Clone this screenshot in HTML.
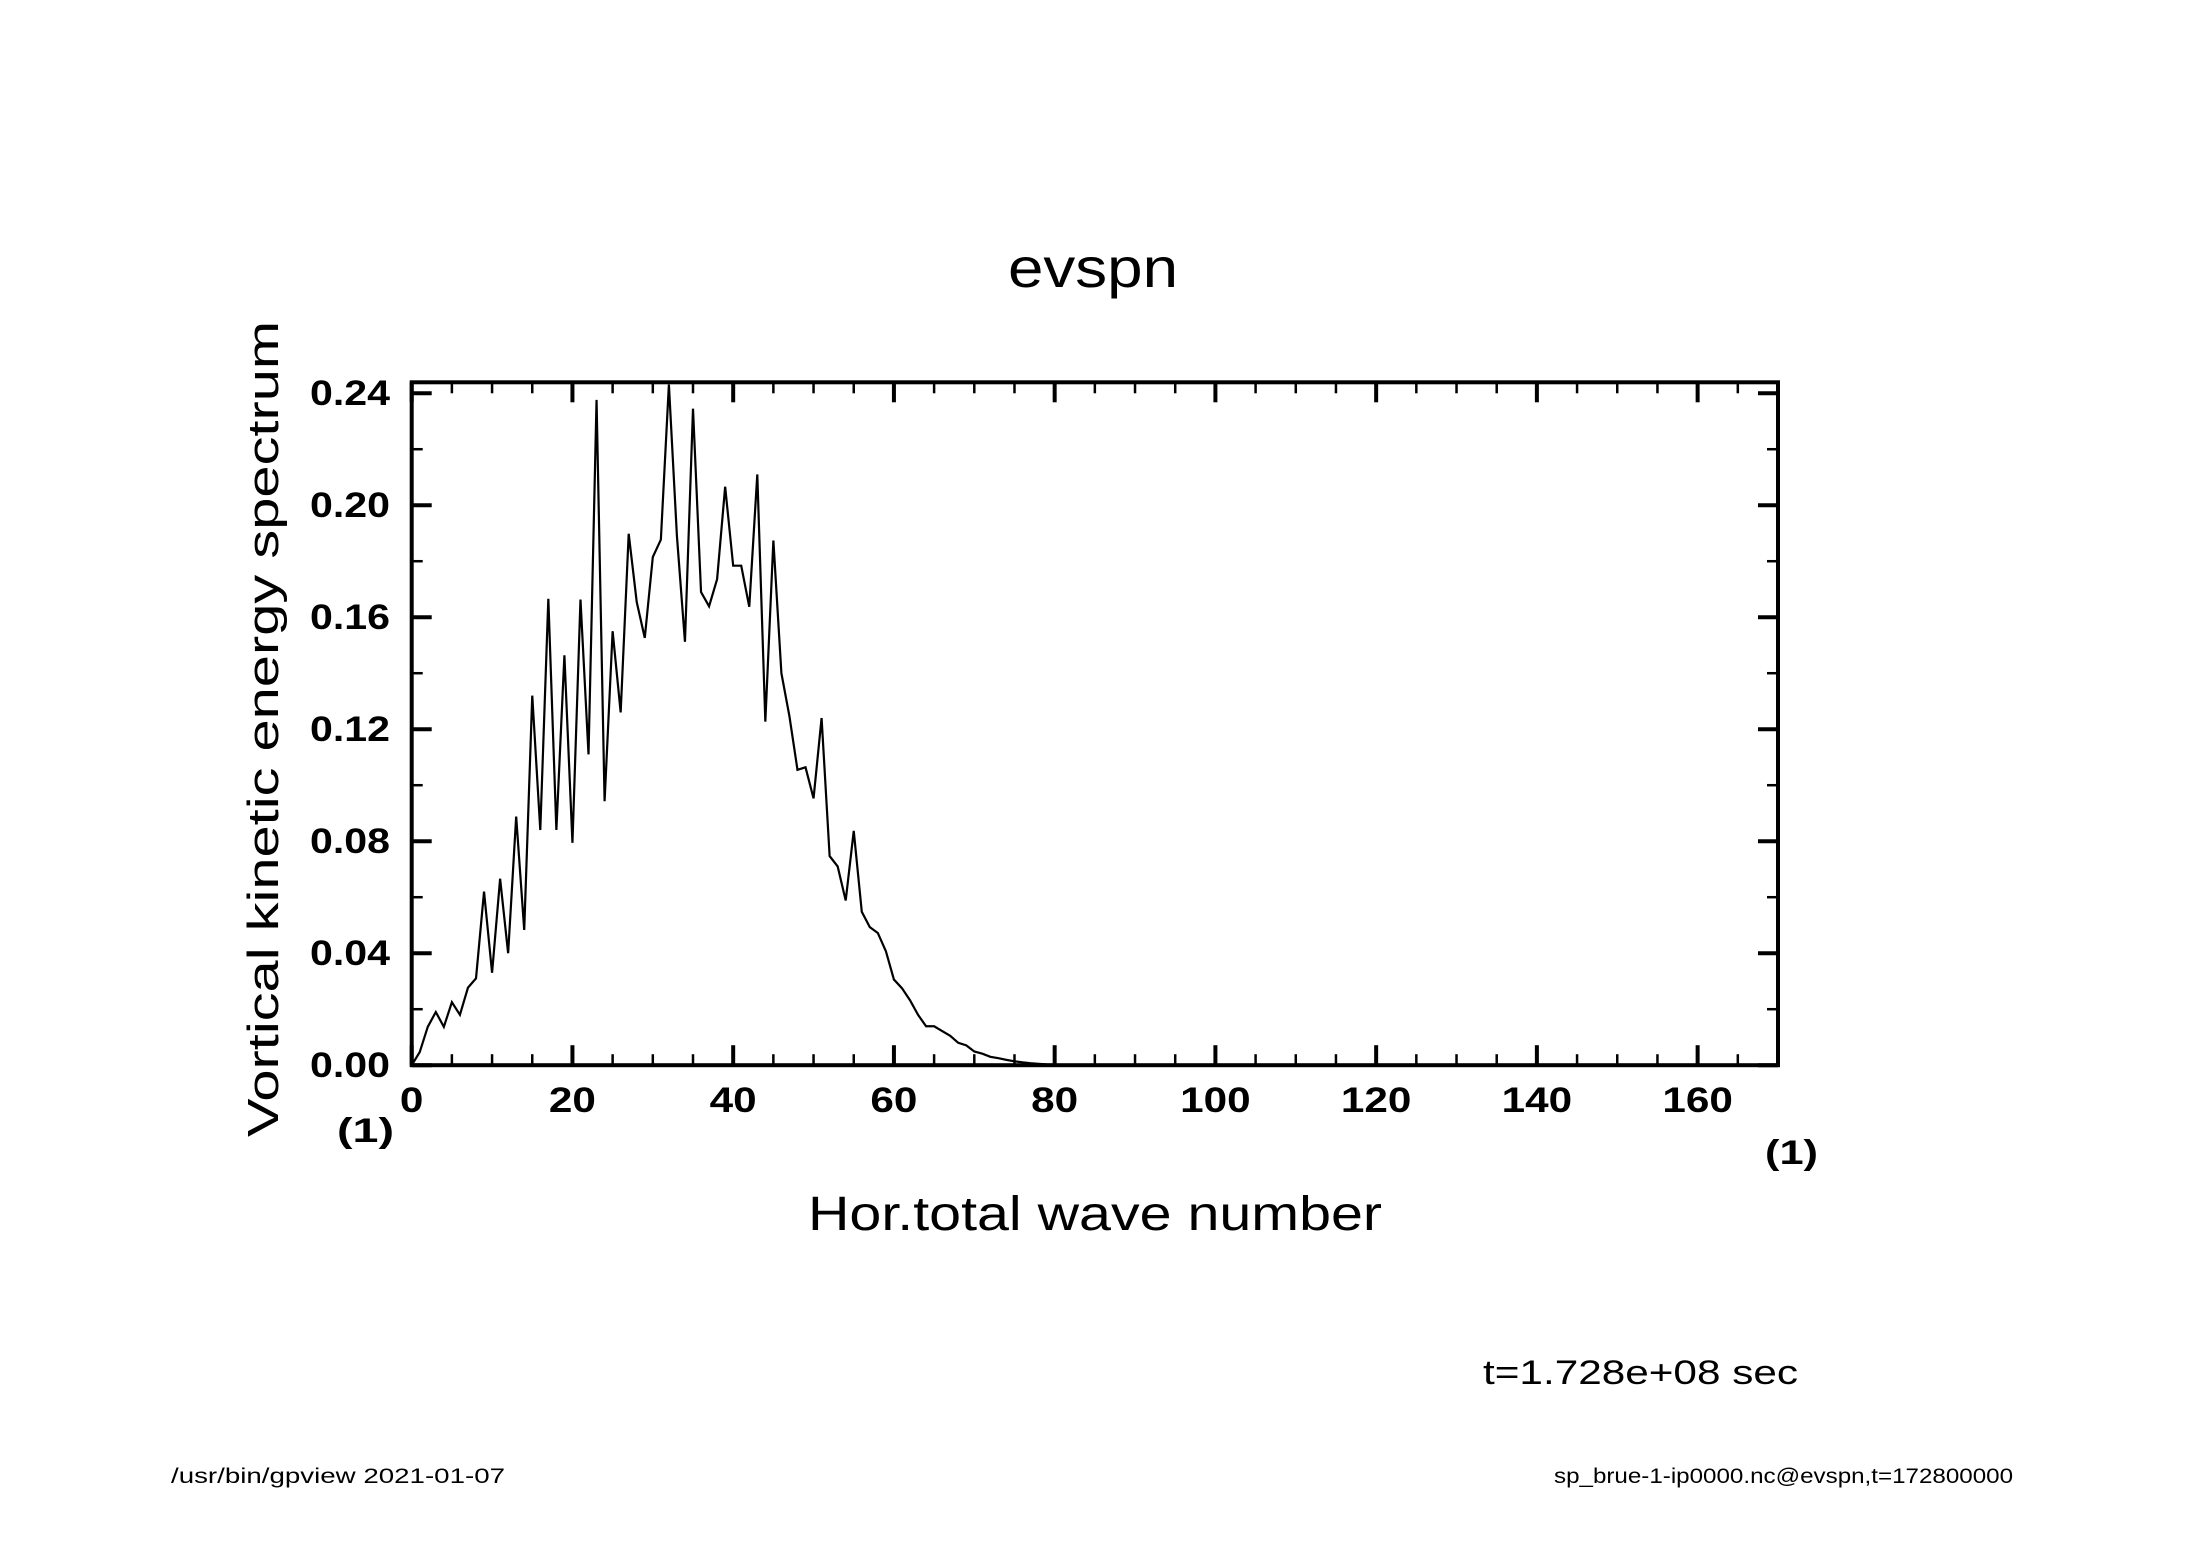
<!DOCTYPE html>
<html><head><meta charset="utf-8"><style>
html,body{margin:0;padding:0;background:#fff;}
svg{display:block;}
text{font-family:"Liberation Sans","DejaVu Sans",sans-serif;fill:#000;}
</style></head><body>
<svg id="chart" width="2188" height="1546" viewBox="0 0 2188 1546" xmlns="http://www.w3.org/2000/svg">
<rect width="2188" height="1546" fill="#fff"/>
<text x="1008" y="287" font-size="56" textLength="170" lengthAdjust="spacingAndGlyphs">evspn</text>
<text transform="translate(278,1137) rotate(-90)" x="0" y="0" font-size="44" textLength="816" lengthAdjust="spacingAndGlyphs">Vortical kinetic energy spectrum</text>
<text x="808" y="1230" font-size="48" textLength="574" lengthAdjust="spacingAndGlyphs">Hor.total wave number</text>
<text x="337" y="1142" font-size="34" font-weight="bold" textLength="57" lengthAdjust="spacingAndGlyphs">(1)</text>
<text x="1765" y="1164" font-size="34" font-weight="bold" textLength="53" lengthAdjust="spacingAndGlyphs">(1)</text>
<text x="1483" y="1384" font-size="34" textLength="315" lengthAdjust="spacingAndGlyphs">t=1.728e+08 sec</text>
<text x="171" y="1483" font-size="21" textLength="334" lengthAdjust="spacingAndGlyphs">/usr/bin/gpview   2021-01-07</text>
<text x="1554" y="1483" font-size="21" textLength="459" lengthAdjust="spacingAndGlyphs">sp_brue-1-ip0000.nc@evspn,t=172800000</text>
<g id="plot"></g>
</svg>
<script>
const xTicks = [0,20,40,60,80,100,120,140,160];
const yTicks = [0.00,0.04,0.08,0.12,0.16,0.20,0.24];
const yTickLabels = ["0.00","0.04","0.08","0.12","0.16","0.20","0.24"];
const spectrum = [0,0.0047,0.0137,0.019,0.0137,0.0225,0.018,0.0277,0.031,0.062,
0.033,0.0666,0.040,0.0888,0.0483,0.132,0.084,0.1666,0.084,0.1464,
0.0794,0.1663,0.111,0.2376,0.0943,0.155,0.126,0.1898,0.1654,0.1526,
0.1815,0.1877,0.2431,0.189,0.1512,0.2345,0.169,0.1639,0.1736,0.2066,
0.1784,0.1784,0.1637,0.211,0.1227,0.1874,0.140,0.1246,0.1055,0.1064,
0.0953,0.124,0.0747,0.071,0.0588,0.0837,0.0548,0.0493,0.0472,0.0407,
0.0306,0.0275,0.0232,0.018,0.0139,0.0139,0.0122,0.0105,0.008,0.0071,
0.0049,0.0041,0.003,0.0025,0.0019,0.0014,0.001,0.0007,0.0005,0.0003,0.0002];

const L=411.7, R=1778, T=382.3, B=1065.2, XMAX=170, YMAX=0.2439;
const sx = v => L + (v/XMAX)*(R-L);
const sy = v => B - (v/YMAX)*(B-T);
const NS='http://www.w3.org/2000/svg';
const g=document.getElementById('plot');
function mk(tag, attrs){const e=document.createElementNS(NS,tag);for(const k in attrs)e.setAttribute(k,attrs[k]);g.appendChild(e);return e;}

let pts=[];
for(let k=0;k<=XMAX;k++){const v=k<spectrum.length?spectrum[k]:0;pts.push(sx(k).toFixed(2)+','+sy(v).toFixed(2));}
const line=mk('polyline',{points:pts.join(' '),fill:'none',stroke:'#000','stroke-width':2.2,'stroke-linejoin':'miter'});



for(let v=0; v<=XMAX; v+=5){
  const major = xTicks.includes(v);
  const len = major?20:11, w = major?4:2.5;
  const x=sx(v);
  const t1=mk('line',{x1:x,y1:B,x2:x,y2:B-len,stroke:'#000','stroke-width':w});
  
  
  const t2=mk('line',{x1:x,y1:T,x2:x,y2:T+len,stroke:'#000','stroke-width':w});
  
  
}
xTicks.forEach(v=>{
  const s=String(v);
  const t=mk('text',{x:sx(v),y:1112,'font-size':35,'font-weight':'bold','text-anchor':'middle',textLength:s.length*23.5,lengthAdjust:'spacingAndGlyphs'});
  t.textContent=s;
  
  
});
for(let i=0;i<=12;i++){
  const v=i*0.02, major=(i%2===0);
  const len=major?20:11, w=major?4:2.5;
  const y=sy(v);
  const t1=mk('line',{x1:L,y1:y,x2:L+len,y2:y,stroke:'#000','stroke-width':w});
  
  
  const t2=mk('line',{x1:R,y1:y,x2:R-len,y2:y,stroke:'#000','stroke-width':w});
  
  
}
yTicks.forEach((v,i)=>{
  const t=mk('text',{x:390,y:sy(v)+12,'font-size':35,'font-weight':'bold','text-anchor':'end',textLength:80,lengthAdjust:'spacingAndGlyphs'});
  t.textContent=yTickLabels[i];
  
  
});
const fr=mk('rect',{x:L,y:T,width:R-L,height:B-T,fill:'none',stroke:'#000','stroke-width':4});


</script>
</body></html>
